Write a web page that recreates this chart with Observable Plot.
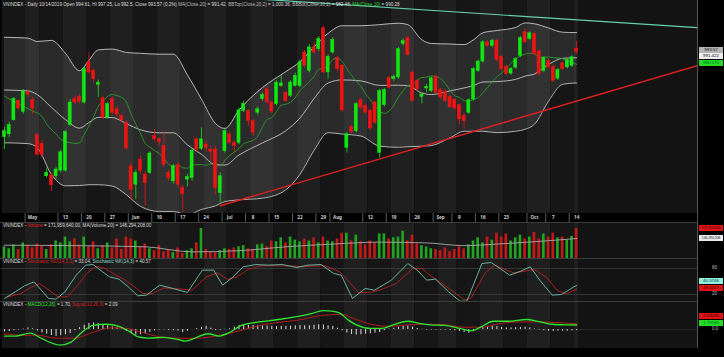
<!DOCTYPE html>
<html><head><meta charset="utf-8">
<script src="https://cdn.jsdelivr.net/npm/d3@7"></script>
<script src="https://cdn.jsdelivr.net/npm/@observablehq/plot@0.6"></script>
<style>
html,body{margin:0;padding:0;background:#000;}
#wrap{position:relative;width:724px;height:357px;background:#000;overflow:hidden;font-family:"Liberation Sans",Arial,sans-serif;}
.hdr{position:absolute;left:3px;font-size:4.6px;color:#ddd;white-space:nowrap;line-height:6px;}
.tag{position:absolute;left:699px;width:24px;height:6px;line-height:6px;font-size:4.4px;text-align:center;white-space:nowrap;}
.tag.long{font-size:3.5px;letter-spacing:-0.1px;}
.lbl{position:absolute;left:712px;font-size:4.6px;color:#bbb;line-height:6px;}
</style></head><body><div id="wrap"></div>
<script>
// ---------- data ----------
const holidays = ["2019-04-30","2019-05-01","2019-09-02"];
const firstDay = "2019-04-22", lastDay = "2019-10-14";
const open = [963.2,964.2,969.2,976.1,972.2,979.0,976.4,963.9,960.8,949.3,949.6,949.3,951.3,951.3,967.5,976.7,977.5,975.5,989.8,986.8,981.8,977.0,970.1,976.7,973.1,970.7,968.3,952.8,946.3,955.2,949.9,950.5,963.6,962.4,960.0,950.5,947.5,953.4,945.1,948.1,948.7,962.4,959.1,960.6,958.8,958.8,943.3,958.2,964.2,961.2,961.2,972.5,972.5,968.9,971.9,976.7,980.2,975.5,974.9,981.4,979.0,977.9,981.4,981.4,993.3,986.8,995.1,994.5,1001.9,986.2,993.3,991.3,988.6,959.4,966.8,965.3,976.3,974.3,972.5,975.5,957.6,974.6,984.2,983.8,984.4,996.3,998.4,986.1,983.2,977.5,980.5,979.6,984.6,979.9,979.4,977.5,976.5,974.6,970.7,971.9,976.6,986.8,990.1,996.9,995.7,997.5,991.8,988.2,985.8,987.9,992.1,1000.5,998.1,999.9,993.7,986.8,990.3,988.2,984.0,989.4,988.0,988.6,994.61];
const high = [966.7,968.5,977.3,976.5,980.2,980.0,977.3,964.5,962.0,952.2,950.5,952.5,958.5,965.5,976.5,977.5,978.3,988.0,993.3,987.5,983.5,977.8,975.5,977.5,974.0,971.5,969.0,954.0,951.5,956.5,951.0,958.0,965.9,963.0,965.0,951.5,953.5,954.0,946.0,950.0,959.0,963.0,966.5,962.0,960.0,960.0,950.5,966.0,965.0,962.0,973.5,976.0,973.0,969.5,974.0,978.8,981.0,976.0,983.3,985.0,979.6,983.3,986.0,990.5,994.0,996.0,997.0,999.0,1002.6,992.5,998.5,991.8,989.0,964.8,967.5,975.5,977.0,975.0,973.0,976.0,980.2,980.5,984.8,985.3,995.1,998.1,999.0,986.8,983.8,979.0,982.0,984.6,985.3,980.5,980.0,978.0,977.0,975.0,971.5,976.8,987.9,990.6,997.5,997.5,998.0,998.0,992.3,988.8,988.0,991.5,999.0,1001.8,1000.6,1000.5,994.3,991.8,990.9,988.8,987.6,990.0,991.0,992.1,997.25];
const low = [958.8,963.0,968.9,972.8,971.3,977.0,971.3,956.5,955.5,948.7,943.9,948.0,950.5,950.8,967.0,974.8,975.0,975.0,985.5,982.5,977.3,969.5,969.5,971.0,970.5,968.5,958.5,941.0,941.0,950.0,938.6,950.0,961.5,960.0,952.5,947.5,946.5,945.0,936.5,945.5,947.5,958.0,958.5,958.0,955.0,942.7,939.8,957.5,960.5,957.6,960.5,972.0,967.1,963.6,971.0,976.0,975.0,971.5,974.3,981.0,975.5,977.3,981.0,980.8,988.0,986.0,992.7,993.7,985.6,983.8,992.7,986.5,972.0,957.6,964.5,964.8,973.0,971.3,965.5,967.7,955.8,974.0,980.3,983.0,983.8,995.7,992.0,975.5,979.6,975.0,979.0,979.0,978.5,976.8,975.5,973.4,972.8,967.7,966.0,971.3,976.0,986.2,989.5,995.0,995.0,990.0,986.8,985.0,985.2,987.4,991.5,996.3,997.5,992.1,985.0,986.2,987.4,982.6,983.4,986.8,987.4,988.0,992.5];
const close = [965.3,967.5,976.7,973.4,979.4,978.2,973.4,957.0,957.0,950.5,946.1,951.7,957.8,965.0,975.5,975.5,975.8,987.4,986.2,983.8,982.6,970.1,974.9,971.9,971.3,969.1,959.2,944.5,950.5,951.1,946.9,957.4,962.4,961.5,953.4,948.7,952.8,946.3,943.0,949.0,958.4,958.8,962.4,959.4,958.0,945.1,949.3,965.3,961.2,960.0,972.7,975.1,968.9,964.8,973.1,978.2,975.5,972.3,982.6,982.3,976.1,982.6,985.0,989.8,988.6,995.1,993.3,998.1,986.2,991.8,997.7,987.4,972.7,964.2,965.1,974.9,973.7,971.9,966.3,968.3,979.6,979.9,980.8,984.6,994.5,997.3,992.5,976.1,980.2,978.4,981.0,984.1,979.0,977.3,976.1,973.9,973.4,969.5,968.9,976.3,987.4,990.1,996.9,995.7,997.5,990.6,987.4,985.6,987.4,990.9,998.4,996.9,1000.1,992.7,985.6,991.3,988.0,983.2,987.0,987.4,990.6,991.6,993.57];
// volume, millions of shares
const volume = [125,120,130,118,135,128,122,132,126,118,130,140,135,150,138,145,130,150,125,138,120,128,135,122,145,118,150,145,140,125,132,120,115,128,112,118,110,122,108,115,120,135,172,118,112,110,115,120,118,122,125,128,120,118,130,132,125,140,138,148,135,150,142,138,145,140,148,135,150,140,138,145,160,160,140,155,138,130,140,135,158,158,145,148,150,165,140,155,132,128,125,120,118,115,122,112,118,125,120,130,140,148,135,150,142,160,150,158,140,148,155,145,150,162,145,158,150,160,148,150,142,152,172];
const macdHist = [-0.9,-0.7,-0.4,-0.2,0.2,0.6,0.3,-0.5,-1.2,-1.7,-2.2,-2.5,-2.3,-1.9,-1.4,-0.4,0.7,1.6,2.3,2.5,2.2,1.8,1.4,1.0,0.7,0.1,-0.7,-1.5,-2.0,-1.9,-1.5,-1.0,-0.5,-0.2,-0.1,-0.3,-0.4,-0.55,-1.1,-0.6,0.0,0.35,0.8,1.2,0.5,-0.3,-0.3,0.1,0.3,0.9,1.5,1.7,1.6,1.5,1.5,1.4,1.3,1.2,1.1,1.2,1.2,1.3,1.4,1.5,1.4,1.4,1.6,1.8,1.7,1.4,1.2,0.5,-0.4,-1.3,-1.8,-2.0,-1.9,-1.7,-1.5,-1.3,-1.1,-0.4,0.2,0.5,0.9,1.2,1.3,0.9,0.4,0.1,-0.2,-0.2,-0.2,-0.2,-0.2,-0.3,-0.4,-0.6,-1.0,-1.3,-0.6,0.1,0.8,1.2,1.4,1.1,0.8,0.6,0.6,0.7,0.8,0.9,0.6,0.2,-0.2,-0.4,-0.6,-0.7,-0.6,-0.6,-0.6,-0.5,-0.39];
// Bollinger bands read at these candle indices
const bbIdx = [0,5,7,10,13,16,18,20,23,26,29,33,36,39,42,45,47,50,55,60,63,66,69,72,76,80,84,86,89,91,95,98,100,102,105,109,111,113,116,119,122];
const bbTop = [998.7,998.4,997.2,997.6,993.0,986.8,990.5,994.2,994.5,993.3,993.0,992.7,992.7,985.3,976.7,968.0,966.3,972.8,980.8,986.5,990.0,995.3,1000.1,1002.8,1002.8,1003.2,1003.7,1003.2,997.8,996.5,996.3,996.1,997.8,1000.3,1001.1,1002.2,1003.8,1003.5,1002.0,1000.5,1000.36];
const bbBot = [961.2,960.9,959.4,950.0,945.9,946.0,946.3,946.3,945.8,942.7,938.6,936.8,936.8,935.6,937.5,938.8,940.3,940.9,941.5,944.5,950.0,958.5,964.8,964.3,963.6,960.0,959.6,959.8,960.0,960.2,963.0,965.3,965.3,965.3,964.8,965.3,966.0,967.8,976.0,982.0,982.48];
// MA(Close,10) before ten closes exist
const ma10HeadIdx = [0,3,6,8];
const ma10Head = [977.8,975.0,972.5,970.5];
const volMaIdx = [0,15,30,40,50,60,70,80,90,98,105,113,122];
const volMa = [129,128,125,112,115,125,132,137,135,128,132,138,146.29];
const stochKIdx = [0,2.3,4.3,6.3,9.4,11,12.9,15.3,17.3,18.9,20.9,22.4,24.4,26.4,28.4,30.3,33.1,35.9,39,42.2,44.6,46.5,48.5,50.9,53.6,56,59.2,62.3,64.7,67.5,70.2,71.8,74.2,76.9,78.9,82.5,86,88,90,91.9,94.7,97.1,98.6,101.8,103.8,107.7,109.7,112.1,114.4,116.8,118.8,121.4,122];
const stochK = [10.8,26.2,40,49.2,10.8,9.2,26.2,64.6,87.7,89.2,72.3,60.8,55.4,37.7,16.9,18.5,41.5,33.9,24.6,76.2,76.2,41.5,58.5,83.8,89.2,87.7,89.2,82.3,87.7,89.2,68.5,64.6,10.8,33.9,30,53.1,91.5,76.2,53.1,55.4,26.2,4.6,4.6,91.5,93.8,64.6,72.3,83.8,49.2,18.5,20,37.7,40.57];
const stochDIdx = [0.5,3.5,5.5,7.5,9.5,11.5,13.5,15.5,17.5,19.5,21.5,23.5,25.5,27.5,29.5,31.5,34,37,40,43,45.5,47.5,49.5,52,55,58,61,63.5,66,68.5,71.5,73,75.5,78,80,83.5,87,89,91,93,95.5,98,99.5,102.5,104.5,108.5,111,113,115.5,118,120,122];
const stochD = [14,22,36,45,30,14,15,40,68,85,80,66,55,40,22,22,35,33,30,60,70,55,60,78,87,86,86,84,86,86,72,55,24,25,30,45,80,80,62,48,28,8,12,70,88,70,74,78,60,28,22,33.04];
const macdIdx = [0,2.3,5.5,7.8,11.8,14.2,16.5,18.9,21.7,24.4,26.4,28.4,30.7,33.9,37.1,38.6,41,43.4,45.7,48.1,50.5,54.4,58.4,62.3,65.5,67.9,70.2,71.4,73.4,75,78.1,80.5,82.9,86,88.4,90.8,93.9,97.1,99.5,101.8,104.2,107.4,111.3,113.7,116.8,120,122];
const macdLine = [-2.42,-2.42,-1.32,-3.19,-5.72,-4.62,-0.99,1.54,1.98,1.21,-0.44,-2.64,-3.19,-2.86,-3.74,-4.29,-2.86,-1.54,-2.42,-0.99,1.54,2.86,3.74,4.84,5.94,7.04,6.71,6.16,3.41,1.76,0.44,0.44,1.76,3.08,2.31,1.76,1.54,0.44,-0.44,1.21,3.08,3.08,3.74,3.08,1.98,1.76,1.70];
const sigIdx = [0,3.9,7,11,14.9,18.9,22.8,26,29.2,33.1,37.1,41,44.9,48.9,52.9,56.8,62.3,67.9,71.8,75,78.1,82.1,86,90,93.9,97.9,101.8,105.8,109.7,113.7,117.6,122];
const sigLine = [-1.54,-2.09,-2.09,-3.19,-3.19,-0.99,0.66,0.44,-0.99,-2.64,-3.19,-3.19,-2.42,-0.99,0.88,2.31,3.41,5.28,5.61,3.74,1.98,1.21,1.76,1.98,1.76,0.88,0.88,2.31,2.86,2.86,2.64,2.09];
// trend lines (candle index, price)
const tealIdx = [55,147.76], tealPrice = [1012.2,1002.1];
const redIdx = [46,147.76], redPrice = [938.8,988.6];
const tickDates = ["2019-05-02","2019-05-13","2019-05-20","2019-05-27","2019-06-03","2019-06-10","2019-06-17","2019-06-24","2019-07-01","2019-07-08","2019-07-15","2019-07-22","2019-07-29","2019-08-01","2019-08-12","2019-08-19","2019-08-26","2019-09-03","2019-09-09","2019-09-16","2019-09-23","2019-10-01","2019-10-07","2019-10-14"];
const tickLabels = ["May","13","20","27","Jun","10","17","24","Jul","8","15","22","29","Aug","12","19","26","Sep","9","16","23","Oct","7","14"];

// ---------- build ----------
const fmt = d3.utcFormat("%Y-%m-%d");
const dates = [];
for (let t = new Date(firstDay+"T00:00Z"); fmt(t) <= lastDay; t = new Date(+t + 864e5)) {
  const wd = t.getUTCDay();
  if (wd !== 0 && wd !== 6 && !holidays.includes(fmt(t))) dates.push(fmt(t));
}
const idxOf = new Map(dates.map((d,i)=>[d,i]));
const candles = dates.map((d,i)=>({i, d, o:open[i], h:high[i], l:low[i], c:close[i], v:volume[i], hist:macdHist[i], up: close[i] >= open[i]}));
const weeks = [];
dates.forEach((d,i)=>{
  const wk = d3.utcMonday.floor(new Date(d+"T00:00Z")).getTime();
  if (!weeks.length || weeks[weeks.length-1].wk !== wk) weeks.push({wk, x1:i-0.5, x2:i+0.5, n:weeks.length});
  else weeks[weeks.length-1].x2 = i+0.5;
});
const lastI = dates.length-1;
const XD = [-0.85, 147.76];
const future = [{x1:lastI+0.5, x2:XD[1]}];
const zip = (a,b)=>a.map((x,k)=>({i:x, v:b[k]}));
const bb = bbIdx.map((x,k)=>({i:x, top:bbTop[k], bot:bbBot[k], mid:(bbTop[k]+bbBot[k])/2}));
const ma10 = ma10HeadIdx.map((x,k)=>({i:x, v:ma10Head[k]}));
for (let i=9;i<=lastI;i++) ma10.push({i, v:d3.mean(close.slice(i-9,i+1))});
const UP = "#12e612", DN = "#ee1414";
const wrap = document.getElementById("wrap");

function stripes(){ return [
  Plot.rect(weeks, {x1:"x1", x2:"x2", fill:d=>d.n%2 ? "#1f1f1f" : "#161616"}),
  Plot.rect(future, {x1:"x1", x2:"x2", fill:"#131313"})
];}
function panel(top, height, ydom, marks){
  const p = Plot.plot({width:724, height, marginLeft:0, marginRight:27, marginTop:0, marginBottom:0,
    x:{domain:XD, axis:null}, y:{domain:ydom, axis:null}, style:{background:"none"}, marks});
  p.style.position="absolute"; p.style.left="0px"; p.style.top=top+"px";
  wrap.appendChild(p); return p;
}

// price panel
const priceTop = 0, priceH = 213;
const pPrice = panel(priceTop, priceH, [936.06, 1011.78], [
  ...stripes(),
  Plot.areaY(bb, {x:"i", y1:"bot", y2:"top", fill:"#ffffff", fillOpacity:0.085, curve:"monotone-x"}),
  Plot.line(bb, {x:"i", y:"top", stroke:"#c4c4c4", strokeWidth:0.9, curve:"monotone-x"}),
  Plot.line(bb, {x:"i", y:"bot", stroke:"#c4c4c4", strokeWidth:0.9, curve:"monotone-x"}),
  Plot.line(bb, {x:"i", y:"mid", stroke:"#c4c4c4", strokeWidth:0.9, curve:"monotone-x"}),
  Plot.line(ma10, {x:"i", y:"v", stroke:"#2b9a2b", strokeWidth:0.9, curve:"monotone-x"}),
  Plot.line(zip(tealIdx, tealPrice), {x:"i", y:"v", stroke:"#66d0b0", strokeWidth:1.2, clip:true}),
  Plot.line(zip(redIdx, redPrice), {x:"i", y:"v", stroke:"#e02020", strokeWidth:1.4, clip:true}),
  Plot.ruleX(candles, {x:"i", y1:"l", y2:"h", stroke:d=>d.up?UP:DN, strokeWidth:0.8}),
  Plot.rect(candles, {x1:d=>d.i-0.33, x2:d=>d.i+0.33, y1:d=>Math.min(d.o,d.c), y2:d=>Math.max(d.o,d.c), fill:d=>d.up?UP:DN, stroke:d=>d.up?UP:DN, strokeWidth:0.5})
]);

// date strip
panel(213, 9, [0,1], [
  Plot.text(tickDates, {x:d=>idxOf.get(d), y:0.5, text:(d,k)=>tickLabels[k], fill:"#cfcfcf", fontSize:4.6, fontWeight:"bold"}),
  Plot.tickX(tickDates, {x:d=>idxOf.get(d)-1.6, y1:0.55, y2:1, stroke:"#999", strokeWidth:0.6})
]);

// volume panel
const volTop = 222, volH = 36, volDom = [95, 187.4];
const pVol = panel(volTop, volH, volDom, [
  ...stripes(),
  Plot.rect(candles, {x1:d=>d.i-0.28, x2:d=>d.i+0.28, y1:volDom[0], y2:"v", fill:d=>d.up?"#1fa51f":"#c41818"}),
  Plot.line(zip(volMaIdx, volMa), {x:"i", y:"v", stroke:"#a8a8a8", strokeWidth:0.9, curve:"monotone-x"})
]);

// stochastic panel
const stTop = 258, stH = 43, stDom = [3.8, 103.1];
const pSt = panel(stTop, stH, stDom, [
  ...stripes(),
  Plot.ruleY([80,20], {stroke:"#444", strokeWidth:0.7}),
  Plot.line(zip(stochDIdx, stochD), {x:"i", y:"v", stroke:"#b42222", strokeWidth:0.9, clip:true}),
  Plot.line(zip(stochKIdx, stochK), {x:"i", y:"v", stroke:"#6fc2ae", strokeWidth:0.9, clip:true})
]);

// MACD panel
const mTop = 301, mH = 47, mDom = [-7.0, 10.4];
const pM = panel(mTop, mH, mDom, [
  ...stripes(),
  Plot.ruleY([0], {stroke:"#333", strokeWidth:0.6}),
  Plot.ruleX(candles, {x:"i", y1:0, y2:"hist", stroke:"#dcdcdc", strokeWidth:1}),
  Plot.line(zip(sigIdx, sigLine), {x:"i", y:"v", stroke:"#b01c1c", strokeWidth:1, curve:"monotone-x"}),
  Plot.line(zip(macdIdx, macdLine), {x:"i", y:"v", stroke:"#2ee82e", strokeWidth:1.3, curve:"monotone-x"})
]);

// separators & right edge
function hline(y){ const d=document.createElement("div"); d.style.cssText=`position:absolute;left:0;top:${y}px;width:697px;height:1px;background:#3c3c3c`; wrap.appendChild(d); }
[222, 258, 301].forEach(hline);
const vl=document.createElement("div"); vl.style.cssText="position:absolute;left:697px;top:0;width:1px;height:348px;background:#555"; wrap.appendChild(vl);

// headers
function header(top, parts){
  const d=document.createElement("div"); d.className="hdr"; d.style.top=top+"px";
  parts.forEach(([t,c])=>{ const s=document.createElement("span"); s.textContent=t; if(c) s.style.color=c; d.appendChild(s); });
  wrap.appendChild(d);
}
header(2, [["VNINDEX - Daily 10/14/2019 Open 994.61, Hi 997.25, Lo 992.5, Close 993.57 (0.2%) "],["MA(Close,20)","#bbb"],[" = 991.42, "],["BBTop(Close,20,2)","#bbb"],[" = 1,000.36, "],["BBBot(Close,20,2)","#bbb"],[" = 982.48, "],["MA(Close,10)","#2fd02f"],[" = 990.28"]]);
header(223, [["VNINDEX - "],["Volume","#e01818"],[" = 171,959,640.00, MA(Volume,20) = 146,294,208.00"]]);
header(259, [["VNINDEX - "],["Stochastic %D(14,3,3)","#d21e1e"],[" = 33.04, "],["Stochastic %K(14,3)","#8fd8c8"],[" = 40.57"]]);
header(302, [["VNINDEX - "],["MACD(12,26)","#2ee82e"],[" = 1.70, "],["Signal(12,26,9)","#d21e1e"],[" = 2.09"]]);

// right-side value tags
function place(items, gap){
  const s = items.slice().sort((a,b)=>a.y-b.y); s.forEach(d=>d.p=d.y);
  for(let k=0;k<200;k++) for(let j=1;j<s.length;j++){
    const a=s[j-1], b=s[j], m=gap-(b.p-a.p);
    if(m>0){ if(a.fixed&&!b.fixed) b.p+=m; else if(b.fixed&&!a.fixed) a.p-=m; else if(!a.fixed&&!b.fixed){a.p-=m/2;b.p+=m/2;} }
  }
  return s;
}
function tags(p, top, items){
  const ys = p.scale("y");
  items.forEach(d=>d.y = ys.apply(d.v));
  place(items, 6.4).forEach(d=>{
    const e=document.createElement("div");
    e.className = d.fixed ? "lbl" : (d.t.length > 8 ? "tag long" : "tag");
    e.textContent = d.t;
    e.style.top = (top + d.p - 3) + "px";
    if(!d.fixed){ e.style.background=d.bg; e.style.color=d.fg; }
    wrap.appendChild(e);
  });
}
tags(pPrice, priceTop, [
  {v:993.57, t:"993.57", bg:"#b4b4b4", fg:"#111"},
  {v:991.42, t:"991.422", bg:"#ececec", fg:"#111"},
  {v:990.28, t:"990.275", bg:"#22dd22", fg:"#063"}]);
tags(pVol, volTop, [
  {v:171.96, t:"171,959,640", bg:"#dd1414", fg:"#400"},
  {v:146.29, t:"146,294,208", bg:"#ececec", fg:"#111"}]);
tags(pSt, stTop, [
  {v:80, t:"80", fixed:true}, {v:20, t:"20", fixed:true},
  {v:40.57, t:"40.5746", bg:"#90f0dc", fg:"#034"},
  {v:33.04, t:"33.0407", bg:"#dd1414", fg:"#400"}]);
tags(pM, mTop, [
  {v:0, t:"0.0", fixed:true},
  {v:2.09, t:"2.09093", bg:"#dd1414", fg:"#400"},
  {v:1.70, t:"1.70185", bg:"#22dd22", fg:"#063"}]);
</script></body></html>
